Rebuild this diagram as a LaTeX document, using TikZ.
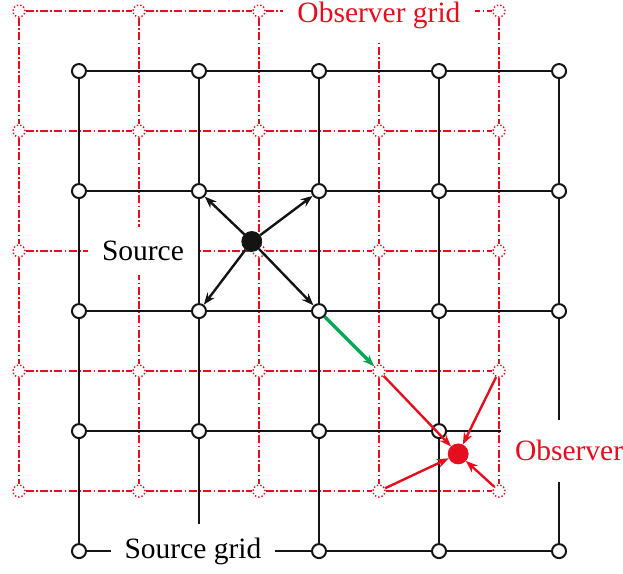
\documentclass[tikz,border=0pt]{standalone}
\usepackage{fontspec}
\setmainfont{Liberation Serif}
\usepackage{tikz}
\usetikzlibrary{positioning,arrows.meta}
\definecolor{obsred}{RGB}{228,14,30}
\definecolor{srcgreen}{RGB}{0,166,81}
\definecolor{ink}{RGB}{20,20,20}
\tikzset{
  snode/.style={draw=ink, circle, fill=white, line width=1pt, minimum size=7pt, inner sep=0pt},
  onode/.style={draw=obsred, densely dotted, circle, fill=white, line width=0.7pt, minimum size=6pt, inner sep=0pt},
  sline/.style={draw=ink, line width=1pt},
  oline/.style={draw=obsred, line width=0.7pt, dash pattern=on 4pt off 1.2pt on 0.8pt off 1.2pt},
  dot/.style={circle, fill=#1, draw=#1, minimum size=10pt, inner sep=0pt},
  dot/.default=ink,
  lbl/.style={fill=white, inner sep=7pt, font=\fontsize{14.75}{17}\selectfont},
  arrow/.style={-{Stealth[length=6pt,width=4.5pt]}, line width=1.2pt, draw=#1},
  arrow/.default=ink
}
\begin{document}
\begin{tikzpicture}[x=60pt, y=-60pt]
    \useasboundingbox (-0.658,-0.592) rectangle (4.533,4.183);
    \foreach \i in {0,...,4} \foreach \j in {0,...,4} {
      \node[onode] (o\i-\j) at (\i-0.5,\j-0.5) {};
      \node[snode] (s\i-\j) at (\i,\j) {};
    }
    \foreach \i [evaluate=\i as \ii using int(\i+1)] in {0,...,3} \foreach \j in {0,...,4} {
      \draw[oline] (o\i-\j) -- (o\ii-\j);
      \draw[oline] (o\j-\i) -- (o\j-\ii);
    }
    \foreach \i [evaluate=\i as \ii using int(\i+1)] in {0,...,3} \foreach \j in {0,...,4} {
      \draw[sline] (s\i-\j) -- (s\ii-\j);
      \draw[sline] (s\j-\i) -- (s\j-\ii);
    }
    \node[dot] (src) at (1.44,1.42) {};
    \node[dot=obsred] (obs) at (3.16,3.19) {};
    \node[lbl, xshift=2pt] (srclbl) at (o1-2) {Source};
    \node[lbl, xshift=-3pt] (sgridlbl) at (s1-4) {Source grid};
    \node[lbl, text=obsred, yshift=-2pt] (ogridlbl) at (o3-0) {Observer grid};
    \node[lbl, text=obsred, inner ysep=10.5pt, yshift=1.5pt, right=16pt of obs] (obslbl) {Observer};
    \foreach \n in {s1-1,s2-1,s1-2,s2-2} \draw[arrow] (src) -- (\n);
    \draw[arrow=srcgreen, line width=1.7pt] (s2-2) -- (o3-3);
    \foreach \n in {o3-3,o4-3,o3-4,o4-4} \draw[arrow=obsred] (\n) -- (obs);
  \end{tikzpicture}
\end{document}
